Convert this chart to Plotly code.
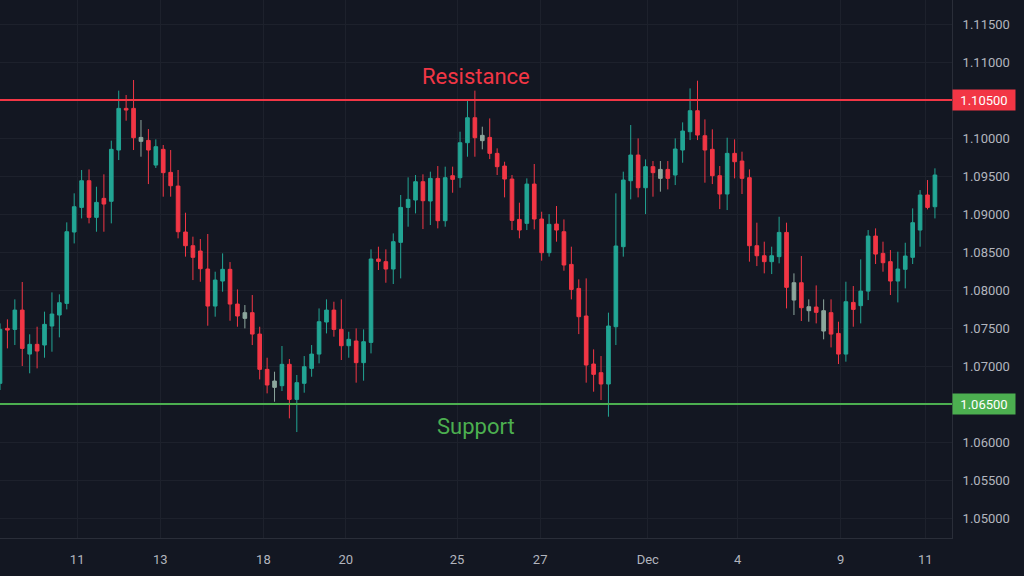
import plotly.graph_objects as go

# ---- data (EURUSD-like 4h candles) ----
opens = [1.06772, 1.07495, 1.07482, 1.07736, 1.07157, 1.07285, 1.07276, 1.07526, 1.07671, 1.07824,
         1.08763, 1.09087, 1.09438, 1.08956, 1.09206, 1.09167, 1.09842, 1.10390, 1.10390, 1.10008,
         1.09969, 1.09644, 1.09851, 1.09548, 1.09368, 1.08763, 1.08583, 1.08513, 1.08276, 1.07789,
         1.08118, 1.08272, 1.07815, 1.07702, 1.07702, 1.07420, 1.06956, 1.06719, 1.06741, 1.07022,
         1.06561, 1.06772, 1.06969, 1.07157, 1.07579, 1.07736, 1.07482, 1.07267, 1.07329, 1.07044,
         1.07311, 1.08408, 1.08373, 1.08276, 1.08627, 1.09087, 1.09184, 1.09425, 1.09171, 1.09469,
         1.08912, 1.09504, 1.09478, 1.09938, 1.10267, 1.09965, 1.10008, 1.09798, 1.09631, 1.09460,
         1.08929, 1.08877, 1.09394, 1.08934, 1.08491, 1.08868, 1.08767, 1.08337, 1.08021, 1.07658,
         1.07026, 1.06912, 1.06763, 1.07517, 1.08570, 1.09438, 1.09776, 1.09346, 1.09623, 1.09469,
         1.09587, 1.09513, 1.09842, 1.10083, 1.10359, 1.10030, 1.09851, 1.09504, 1.09263, 1.09798,
         1.09697, 1.09478, 1.08583, 1.08451, 1.08373, 1.08439, 1.08758, 1.07868, 1.08096, 1.07728,
         1.07776, 1.07460, 1.07702, 1.07429, 1.07157, 1.07837, 1.07794, 1.07986, 1.08710, 1.08482,
         1.08373, 1.08118, 1.08272, 1.08430, 1.08789, 1.09250, 1.09096]
highs = [1.07561, 1.07614, 1.07877, 1.08105, 1.07417, 1.07517, 1.07715, 1.07969, 1.07943, 1.08890,
         1.09272, 1.09579, 1.09587, 1.09359, 1.09522, 1.09965, 1.10623, 1.10566, 1.10763, 1.10237,
         1.10118, 1.09982, 1.09908, 1.09842, 1.09579, 1.09017, 1.08702, 1.08671, 1.08737, 1.08241,
         1.08482, 1.08368, 1.08008, 1.07802, 1.07934, 1.07517, 1.07109, 1.06925, 1.07263, 1.07092,
         1.06882, 1.07131, 1.07276, 1.07758, 1.07877, 1.07846, 1.07877, 1.07451, 1.07495, 1.07482,
         1.08535, 1.08570, 1.08535, 1.08745, 1.09250, 1.09482, 1.09513, 1.09522, 1.09557, 1.09631,
         1.09623, 1.09623, 1.10083, 1.10487, 1.10623, 1.10149, 1.10258, 1.09864, 1.09688, 1.09513,
         1.09149, 1.09469, 1.09658, 1.09030, 1.08999, 1.09105, 1.08929, 1.08570, 1.08140, 1.08153,
         1.07219, 1.07131, 1.07702, 1.09272, 1.09557, 1.10171, 1.09995, 1.09719, 1.09697, 1.09697,
         1.09697, 1.09995, 1.10206, 1.10653, 1.10754, 1.10245, 1.10114, 1.09631, 1.10004, 1.09982,
         1.09820, 1.09587, 1.08886, 1.08636, 1.08570, 1.08964, 1.08886, 1.08219, 1.08447, 1.07877,
         1.08061, 1.07877, 1.07877, 1.07583, 1.08109, 1.08052, 1.08403, 1.08789, 1.08811, 1.08636,
         1.08526, 1.08504, 1.08622, 1.09074, 1.09315, 1.09447, 1.09601]
lows = [1.06684, 1.07232, 1.07276, 1.07000, 1.06904, 1.06969, 1.07109, 1.07188, 1.07377, 1.07745,
        1.08613, 1.08942, 1.08877, 1.08767, 1.08767, 1.08877, 1.09710, 1.10228, 1.09842, 1.09754,
        1.09394, 1.09605, 1.09228, 1.09228, 1.08680, 1.08439, 1.08131, 1.08109, 1.07530, 1.07649,
        1.07978, 1.07596, 1.07517, 1.07495, 1.07276, 1.06824, 1.06640, 1.06530, 1.06671, 1.06311,
        1.06131, 1.06649, 1.06859, 1.07035, 1.07429, 1.07386, 1.07079, 1.07109, 1.06781, 1.06807,
        1.07166, 1.08263, 1.08096, 1.08079, 1.08153, 1.08833, 1.09008, 1.08802, 1.08855, 1.08811,
        1.08833, 1.09280, 1.09346, 1.09754, 1.09754, 1.09851, 1.09723, 1.09513, 1.09219, 1.08789,
        1.08680, 1.08789, 1.08798, 1.08386, 1.08439, 1.08636, 1.08254, 1.07877, 1.07420, 1.06781,
        1.06662, 1.06552, 1.06333, 1.07276, 1.08439, 1.09193, 1.09219, 1.08999, 1.09228, 1.09294,
        1.09324, 1.09381, 1.09675, 1.09973, 1.09973, 1.09412, 1.09394, 1.09065, 1.09052, 1.09469,
        1.09263, 1.08373, 1.08315, 1.08219, 1.08210, 1.08351, 1.07758, 1.07671, 1.07592, 1.07583,
        1.07561, 1.07351, 1.07245, 1.07026, 1.07057, 1.07517, 1.07561, 1.07868, 1.08342, 1.08241,
        1.07934, 1.07837, 1.08021, 1.08342, 1.08570, 1.09061, 1.08942]
closes = [1.07482, 1.07473, 1.07736, 1.07232, 1.07285, 1.07197, 1.07548, 1.07684, 1.07833, 1.08767,
          1.09096, 1.09438, 1.08956, 1.09153, 1.09131, 1.09851, 1.10390, 1.10368, 1.10004, 1.09956,
          1.09842, 1.09886, 1.09544, 1.09372, 1.08767, 1.08583, 1.08430, 1.08280, 1.07789, 1.08131,
          1.08272, 1.07815, 1.07658, 1.07627, 1.07420, 1.06956, 1.06750, 1.06802, 1.07022, 1.06561,
          1.06781, 1.06991, 1.07157, 1.07583, 1.07736, 1.07482, 1.07267, 1.07351, 1.07044, 1.07320,
          1.08408, 1.08377, 1.08276, 1.08636, 1.09087, 1.09193, 1.09425, 1.09175, 1.09469, 1.08912,
          1.09478, 1.09456, 1.09938, 1.10267, 1.10004, 1.10035, 1.09798, 1.09623, 1.09460, 1.08916,
          1.08789, 1.09394, 1.08934, 1.08491, 1.08864, 1.08789, 1.08329, 1.08008, 1.07649, 1.07013,
          1.06890, 1.06763, 1.07526, 1.08579, 1.09447, 1.09776, 1.09346, 1.09623, 1.09544, 1.09587,
          1.09469, 1.09855, 1.10092, 1.10359, 1.10039, 1.09842, 1.09504, 1.09263, 1.09798, 1.09688,
          1.09469, 1.08583, 1.08451, 1.08373, 1.08451, 1.08758, 1.08035, 1.08096, 1.07767, 1.07780,
          1.07706, 1.07728, 1.07420, 1.07157, 1.07846, 1.07745, 1.07986, 1.08710, 1.08473, 1.08359,
          1.08118, 1.08276, 1.08447, 1.08886, 1.09250, 1.09087, 1.09513]
neutral_idx = [19, 33, 37, 65, 89, 107, 109, 111]   # faded / doji-like candles

tick_pos = [10.4, 21.6, 35.5, 46.6, 61.6, 72.8, 87.3, 99.4, 113.3, 124.7]
tick_labels = ["11", "13", "18", "20", "25", "27", "Dec", "4", "9", "11"]
price_ticks = [1.050, 1.055, 1.060, 1.065, 1.070, 1.075, 1.080, 1.085,
               1.090, 1.095, 1.100, 1.105, 1.110, 1.115]
resistance = 1.105
support = 1.065

# ---- styling ----
BG = "#131722"
GRID = "#1d212c"
AXLINE = "#2a2e39"
TXT = "#b2b5be"
UP = "#22a594"
DOWN = "#f23645"
NEUT = "#8da79d"
RES_C = "#f23645"
SUP_C = "#4caf50"
FONT = "Roboto"

idx_all = list(range(len(opens)))
neutral_set = set(neutral_idx)


def subset(sel):
    return dict(x=[i for i in sel], open=[opens[i] for i in sel], high=[highs[i] for i in sel],
                low=[lows[i] for i in sel], close=[closes[i] for i in sel])


groups = [
    ([i for i in idx_all if i not in neutral_set and closes[i] >= opens[i]], UP),
    ([i for i in idx_all if i not in neutral_set and closes[i] < opens[i]], DOWN),
    (neutral_idx, NEUT),
]

fig = go.Figure()
for sel, col in groups:
    d = subset(sel)
    fig.add_trace(go.Candlestick(
        **d,
        increasing=dict(line=dict(color=col, width=1), fillcolor=col),
        decreasing=dict(line=dict(color=col, width=1), fillcolor=col),
        whiskerwidth=0, showlegend=False, hoverinfo="skip",
    ))

for lvl, col in [(resistance, RES_C), (support, SUP_C)]:
    fig.add_shape(type="line", xref="paper", x0=0, x1=1, yref="y", y0=lvl, y1=lvl,
                  line=dict(color=col, width=2))
    fig.add_annotation(xref="paper", x=1, xanchor="left", yref="y", y=lvl, yanchor="middle",
                       text=f"{lvl:.5f}", showarrow=False, bgcolor=col, width=60, height=18,
                       borderpad=1, font=dict(family=FONT, size=13, color="#ffffff"))

fig.add_annotation(xref="paper", x=0.5, yref="y", y=resistance, yanchor="bottom", yshift=9,
                   text="Resistance", showarrow=False,
                   font=dict(family=FONT, size=22, color=RES_C))
fig.add_annotation(xref="paper", x=0.5, yref="y", y=support, yanchor="top", yshift=-8,
                   text="Support", showarrow=False,
                   font=dict(family=FONT, size=22, color=SUP_C))

# the two marked levels are labelled by the coloured price boxes instead of plain tick text
price_text = ["" if abs(p - resistance) < 1e-9 or abs(p - support) < 1e-9 else f"{p:.5f}"
              for p in price_ticks]

fig.update_layout(
    width=1024, height=576,
    margin=dict(l=0, r=72, t=0, b=38, pad=0),
    paper_bgcolor=BG, plot_bgcolor=BG,
    font=dict(family=FONT, color=TXT, size=13),
    showlegend=False,
    xaxis=dict(range=[0, 128.3], tickmode="array", tickvals=tick_pos, ticktext=tick_labels,
               showgrid=True, gridcolor=GRID, gridwidth=1, zeroline=False,
               showline=True, linecolor=AXLINE, linewidth=1, ticks="",
               ticklabelstandoff=9, rangeslider=dict(visible=False), fixedrange=True),
    yaxis=dict(side="right", range=[1.04737, 1.11816], tickmode="array", tickvals=price_ticks,
               ticktext=price_text, showgrid=True, gridcolor=GRID, gridwidth=1, zeroline=False,
               showline=True, linecolor=AXLINE, linewidth=1, ticks="",
               ticklabelstandoff=7, fixedrange=True),
)

fig.write_html("out.html")
